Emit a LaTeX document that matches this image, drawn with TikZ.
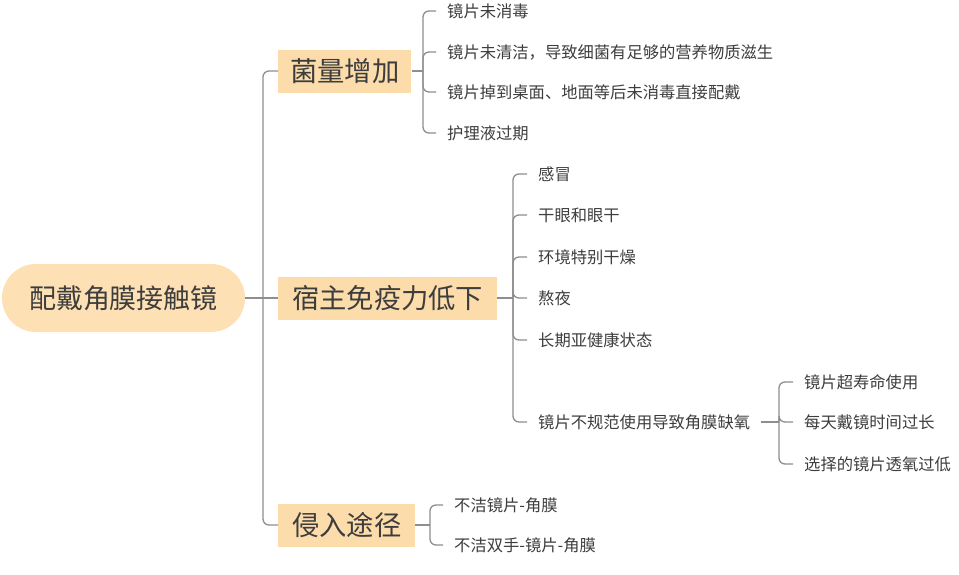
\documentclass[tikz,border=0pt]{standalone}
\usepackage{fontspec}
\newfontfamily\cjk{Noto Sans CJK SC}

\definecolor{peach}{HTML}{FCDCAA}
\definecolor{rootpeach}{HTML}{FDE0B3}
\definecolor{linegray}{HTML}{8E8E8E}
\definecolor{ink}{HTML}{3D3D3D}

\tikzset{
  rootnode/.style={fill=rootpeach, rounded corners=34pt, minimum width=243pt,
    minimum height=68pt, text=ink, font=\cjk\fontsize{27}{30}\selectfont},
  topic/.style={fill=peach, anchor=west, inner xsep=12pt, minimum height=43pt,
    text=ink, font=\cjk\fontsize{27.3}{30}\selectfont},
  leaf/.style={anchor=west, inner xsep=11pt, inner ysep=0pt, text=ink,
    font=\cjk\fontsize{16.3}{19}\selectfont},
  branch/.style={draw=linegray, line width=1.3pt, rounded corners=6pt},
}

\begin{document}
\begin{tikzpicture}[x=1pt,y=-1pt]

        \useasboundingbox (0,0) rectangle (959,574);

        % ============================================
        % ROOT AND MAIN TOPICS
        % ============================================

        \node[rootnode] (root) at (123.5,298) {配戴角膜接触镜};

        \node[topic, minimum width=129pt] (germ) at (278,71)  {菌量增加};
        \node[topic, minimum width=219pt] (host) at (278,298) {宿主免疫力低下};
        \node[topic, minimum width=137pt] (path) at (278,525) {侵入途径};

        % Trunk
        \coordinate (trunk) at (263,298);
        \draw[branch] (root.east) -- (trunk);
        \draw[branch] (trunk) |- (germ.west);
        \draw[branch] (trunk) -- (host.west);
        \draw[branch] (trunk) |- (path.west);

        % ============================================
        % 菌量增加
        % ============================================

        \coordinate (germ-spine) at (423,71);
        \node[leaf] (germ1) at (436,11)  {镜片未消毒};
        \node[leaf] (germ2) at (436,52)  {镜片未清洁，导致细菌有足够的营养物质滋生};
        \node[leaf] (germ3) at (436,92)  {镜片掉到桌面、地面等后未消毒直接配戴};
        \node[leaf] (germ4) at (436,133) {护理液过期};

        \draw[branch] (germ.east) -- (germ-spine);
        \foreach \n in {germ1,germ2,germ3,germ4}
            \draw[branch] (germ-spine) |- (\n.west);

        % ============================================
        % 宿主免疫力低下
        % ============================================

        \coordinate (host-spine) at (513,298);
        \node[leaf] (host1) at (527,174) {感冒};
        \node[leaf] (host2) at (527,215) {干眼和眼干};
        \node[leaf] (host3) at (527,257) {环境特别干燥};
        \node[leaf] (host4) at (527,298) {熬夜};
        \node[leaf] (host5) at (527,340) {长期亚健康状态};
        \node[leaf] (host6) at (527,422) {镜片不规范使用导致角膜缺氧};

        \draw[branch] (host.east) -- (host-spine);
        \foreach \n in {host1,host2,host3,host4,host5,host6}
            \draw[branch] (host-spine) |- (\n.west);

        % Lack of oxygen
        \coordinate (oxy-spine) at (779,422);
        \node[leaf] (oxy1) at (793,382) {镜片超寿命使用};
        \node[leaf] (oxy2) at (793,422) {每天戴镜时间过长};
        \node[leaf] (oxy3) at (793,464) {选择的镜片透氧过低};

        \draw[branch] (host6.east) -- (oxy-spine);
        \foreach \n in {oxy1,oxy2,oxy3}
            \draw[branch] (oxy-spine) |- (\n.west);

        % ============================================
        % 侵入途径
        % ============================================

        \coordinate (path-spine) at (430,525);
        \node[leaf] (path1) at (443,505) {不洁镜片-角膜};
        \node[leaf] (path2) at (443,545) {不洁双手-镜片-角膜};

        \draw[branch] (path.east) -- (path-spine);
        \foreach \n in {path1,path2}
            \draw[branch] (path-spine) |- (\n.west);

\end{tikzpicture}
\end{document}
